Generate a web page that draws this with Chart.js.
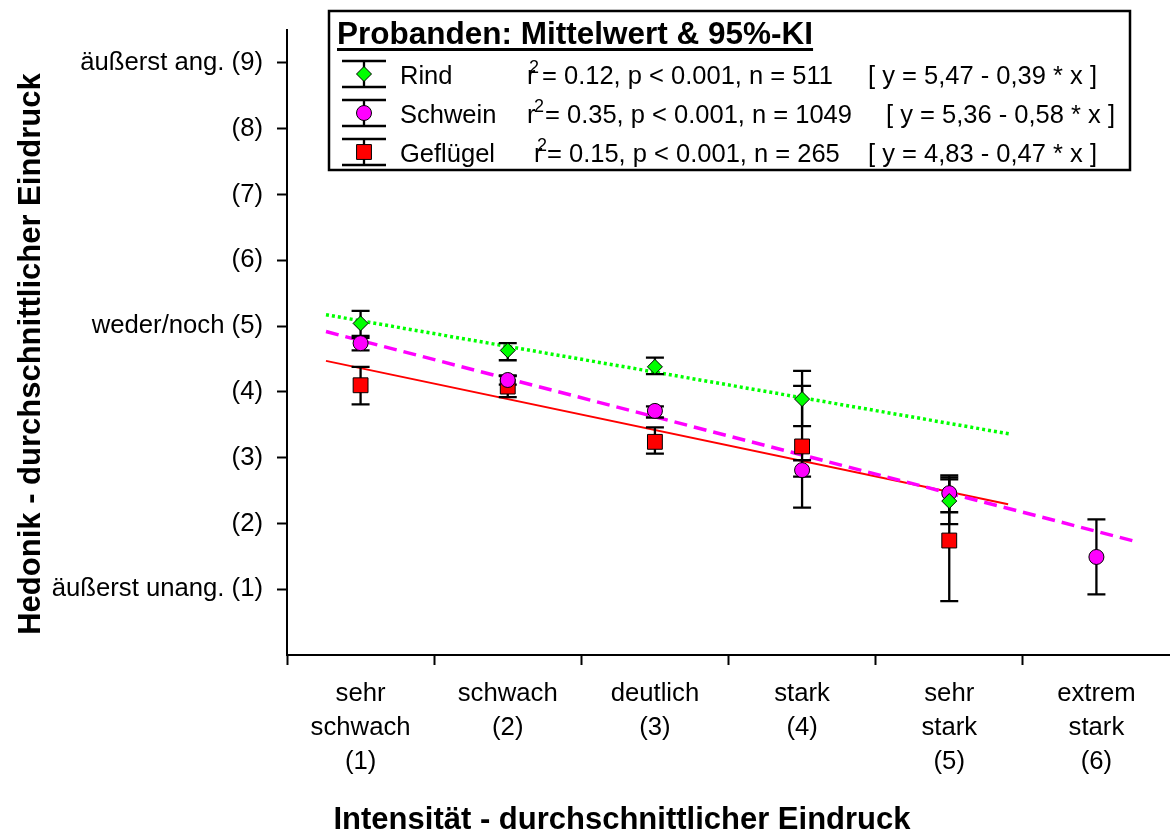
<!DOCTYPE html>
<html lang="de">
<head>
<meta charset="utf-8">
<title>Hedonik vs. Intensität</title>
<script src="https://cdn.jsdelivr.net/npm/chart.js@4.4.1/dist/chart.umd.min.js"></script>
<style>
  html, body { margin: 0; padding: 0; background: #fff; }
  #wrap { width: 1170px; height: 831px; position: relative; }
</style>
</head>
<body>
<div id="wrap"><canvas id="hedonikChart"></canvas></div>
<script>
// Skalenbeschriftungen
const intensityLabels = [
    ['sehr', 'schwach', '(1)'],
    ['schwach', '(2)'],
    ['deutlich', '(3)'],
    ['stark', '(4)'],
    ['sehr', 'stark', '(5)'],
    ['extrem', 'stark', '(6)']
];
const hedonicLabels = ['äußerst unang. (1)', '(2)', '(3)', '(4)', 'weder/noch (5)', '(6)', '(7)', '(8)', 'äußerst ang. (9)'];

// Mittelwerte und 95%-KI je Intensitätsstufe
const rindX = [1, 2, 3, 4, 5];
const rindMean = [5.04, 4.63, 4.38, 3.89, 2.34];
const rindLow = [4.85, 4.48, 4.27, 3.48, 1.99];
const rindHigh = [5.23, 4.74, 4.52, 4.32, 2.70];

const schweinX = [1, 2, 3, 4, 5, 6];
const schweinMean = [4.74, 4.18, 3.71, 2.81, 2.46, 1.49];
const schweinLow = [4.63, 4.11, 3.61, 2.71, 2.17, 0.92];
const schweinHigh = [4.82, 4.25, 3.78, 2.96, 2.73, 2.06];

const gefluegelX = [1, 2, 3, 4, 5];
const gefluegelMean = [4.10, 4.08, 3.24, 3.17, 1.74];
const gefluegelLow = [3.81, 3.92, 3.06, 2.24, 0.82];
const gefluegelHigh = [4.38, 4.24, 3.46, 4.09, 2.67];

// Regressionsgeraden y = a + b * x
const groupNames = ['Rind', 'Schwein', 'Geflügel'];
const r2Values = ['0.12', '0.35', '0.15'];
const nValues = [511, 1049, 265];
const intercepts = [5.47, 5.36, 4.83];
const slopes = [-0.39, -0.58, -0.47];
const fitFrom = [0.765, 0.765, 0.765];
const fitTo = [5.41, 6.29, 5.40];

const FONT = '"Liberation Sans", Arial, Helvetica, sans-serif';
Chart.defaults.font.family = FONT;
Chart.defaults.color = '#000';

const pts = (xs, ys) => xs.map((x, i) => ({ x: x, y: ys[i] }));
const fitLine = i => [fitFrom[i], fitTo[i]].map(x => ({ x: x, y: intercepts[i] + slopes[i] * x }));
const de = v => Math.abs(v).toFixed(2).replace('.', ',');

// Fehlerbalken (95%-KI) unter den Markern
const errorBars = {
    id: 'errorBars',
    beforeDatasetDraw(chart, args) {
        if (args.index !== 2) return;
        const ctx = chart.ctx;
        const xs = chart.scales.x, ys = chart.scales.y;
        ctx.save();
        ctx.strokeStyle = '#000';
        ctx.lineWidth = 2.3;
        chart.data.datasets.forEach(ds => {
            if (!ds.errLow) return;
            ds.data.forEach((p, i) => {
                const px = xs.getPixelForValue(p.x);
                const yl = ys.getPixelForValue(ds.errLow[i]);
                const yh = ys.getPixelForValue(ds.errHigh[i]);
                ctx.beginPath();
                ctx.moveTo(px, yl); ctx.lineTo(px, yh);
                ctx.moveTo(px - 9, yl); ctx.lineTo(px + 9, yl);
                ctx.moveTo(px - 9, yh); ctx.lineTo(px + 9, yh);
                ctx.stroke();
            });
        });
        ctx.restore();
    }
};

// Achsentitel
const axisTitles = {
    id: 'axisTitles',
    afterDraw(chart) {
        const ctx = chart.ctx;
        ctx.save();
        ctx.fillStyle = '#000';
        ctx.font = 'bold 31px ' + FONT;
        ctx.textAlign = 'center';
        ctx.textBaseline = 'middle';
        ctx.fillText('Intensität - durchschnittlicher Eindruck', 622, 820);
        ctx.translate(31, 354);
        ctx.rotate(-Math.PI / 2);
        ctx.fillText('Hedonik - durchschnittlicher Eindruck', 0, 0);
        ctx.restore();
    }
};

// Legendenkasten mit Statistik
const legendBox = {
    id: 'legendBox',
    afterDraw(chart) {
        const ctx = chart.ctx;
        const rowY = [74, 113, 152];
        const rX = [527, 527, 534];
        const supX = [529, 534, 537];
        const eqX = [542, 545, 547];
        const bracketEnd = [1097, 1115, 1097];
        ctx.save();
        ctx.fillStyle = '#fff';
        ctx.fillRect(329, 11, 801, 159);
        ctx.strokeStyle = '#000';
        ctx.lineWidth = 2.5;
        ctx.strokeRect(329, 11, 801, 159);

        ctx.fillStyle = '#000';
        ctx.font = 'bold 31.5px ' + FONT;
        ctx.textBaseline = 'alphabetic';
        const title = 'Probanden: Mittelwert & 95%-KI';
        ctx.fillText(title, 337, 44);
        ctx.fillRect(337, 48, ctx.measureText(title).width, 3);

        chart.data.datasets.slice(0, 3).forEach((ds, i) => {
            const cy = rowY[i];
            // Symbol: Fehlerbalken + Marker
            ctx.strokeStyle = '#000';
            ctx.lineWidth = 2.3;
            ctx.beginPath();
            ctx.moveTo(364, cy - 13); ctx.lineTo(364, cy + 13);
            ctx.moveTo(342, cy - 13); ctx.lineTo(386, cy - 13);
            ctx.moveTo(342, cy + 13); ctx.lineTo(386, cy + 13);
            ctx.stroke();
            ctx.fillStyle = ds.backgroundColor;
            ctx.lineWidth = 1;
            Chart.helpers.drawPoint(ctx, {
                pointStyle: ds.pointStyle, radius: ds.pointRadius, rotation: 0, borderWidth: 1
            }, 364, cy);

            const base = cy + 10;
            ctx.fillStyle = '#000';
            ctx.textAlign = 'left';
            ctx.font = '25.5px ' + FONT;
            ctx.fillText(groupNames[i], 400, base);
            ctx.fillText('r', rX[i], base);
            ctx.fillText('= ' + r2Values[i] + ', p < 0.001, n = ' + nValues[i], eqX[i], base);
            ctx.textAlign = 'right';
            ctx.fillText('[ y = ' + de(intercepts[i]) + ' - ' + de(slopes[i]) + ' * x ]', bracketEnd[i], base);
            ctx.textAlign = 'left';
            ctx.font = '18px ' + FONT;
            ctx.fillText('2', supX[i], base - 11);
        });
        ctx.restore();
    }
};

const ctx = document.getElementById('hedonikChart').getContext('2d');
new Chart(ctx, {
    type: 'scatter',
    data: {
        datasets: [
            {
                label: 'Rind', data: pts(rindX, rindMean), errLow: rindLow, errHigh: rindHigh,
                pointStyle: 'rectRot', pointRadius: 7.5, backgroundColor: '#00ff00',
                borderColor: '#000', borderWidth: 1, order: 1
            },
            {
                label: 'Schwein', data: pts(schweinX, schweinMean), errLow: schweinLow, errHigh: schweinHigh,
                pointStyle: 'circle', pointRadius: 7.5, backgroundColor: '#ff00ff',
                borderColor: '#000', borderWidth: 1, order: 2
            },
            {
                label: 'Geflügel', data: pts(gefluegelX, gefluegelMean), errLow: gefluegelLow, errHigh: gefluegelHigh,
                pointStyle: 'rect', pointRadius: 10.5, backgroundColor: '#ff0000',
                borderColor: '#000', borderWidth: 1, order: 3
            },
            {
                label: 'Rind Regression', data: fitLine(0), showLine: true, pointRadius: 0,
                borderColor: '#00ff00', borderWidth: 3.5, borderDash: [3, 3], order: 4
            },
            {
                label: 'Schwein Regression', data: fitLine(1), showLine: true, pointRadius: 0,
                borderColor: '#ff00ff', borderWidth: 3.5, borderDash: [13, 7], order: 5
            },
            {
                label: 'Geflügel Regression', data: fitLine(2), showLine: true, pointRadius: 0,
                borderColor: '#ff0000', borderWidth: 2, order: 6
            }
        ]
    },
    options: {
        responsive: true,
        maintainAspectRatio: false,
        animation: false,
        layout: { autoPadding: false, padding: { top: 30, right: 0, left: 0, bottom: 0 } },
        plugins: {
            legend: { display: false },
            tooltip: { enabled: false }
        },
        scales: {
            x: {
                type: 'linear',
                min: 0.5,
                max: 6.5,
                afterBuildTicks: s => {
                    s.ticks = [0.5, 1, 1.5, 2, 2.5, 3, 3.5, 4, 4.5, 5, 5.5, 6].map(v => ({ value: v }));
                },
                afterFit: s => {
                    s.height = 176;
                    s.paddingRight = 0;
                },
                border: { display: true, color: '#000', width: 2 },
                grid: {
                    drawOnChartArea: false,
                    drawTicks: true,
                    tickLength: 10,
                    tickWidth: 2,
                    tickColor: c => Number.isInteger(c.tick.value) ? 'rgba(0,0,0,0)' : '#000'
                },
                ticks: {
                    autoSkip: false,
                    maxRotation: 0,
                    minRotation: 0,
                    padding: 12,
                    font: { size: 25.7, lineHeight: 1.32 },
                    color: '#000',
                    callback: v => Number.isInteger(v) ? intensityLabels[v - 1] : ''
                }
            },
            y: {
                type: 'linear',
                min: 0,
                max: 9.5,
                afterBuildTicks: s => {
                    s.ticks = [1, 2, 3, 4, 5, 6, 7, 8, 9].map(v => ({ value: v }));
                },
                afterFit: s => { s.width = 287; },
                border: { display: true, color: '#000', width: 2 },
                grid: {
                    drawOnChartArea: false,
                    drawTicks: true,
                    tickLength: 10,
                    tickWidth: 2,
                    tickColor: '#000'
                },
                ticks: {
                    autoSkip: false,
                    padding: 14,
                    font: { size: 25.7 },
                    color: '#000',
                    callback: v => hedonicLabels[v - 1]
                }
            }
        }
    },
    plugins: [errorBars, axisTitles, legendBox]
});
</script>
</body>
</html>
